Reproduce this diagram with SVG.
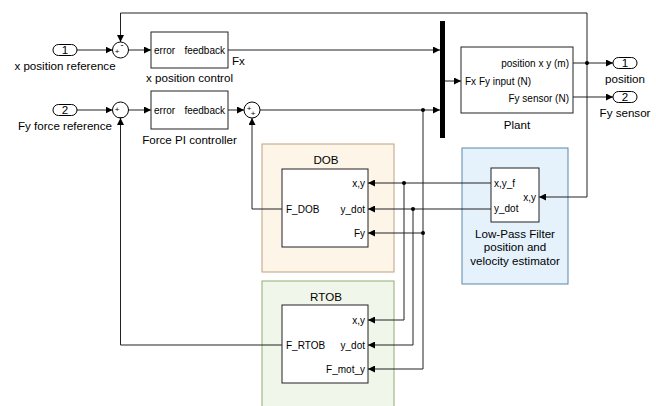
<svg xmlns="http://www.w3.org/2000/svg" width="656" height="406" viewBox="0 0 656 406">
<defs>
<marker id="ar" viewBox="0 0 8 8" refX="8" refY="4" markerWidth="7" markerHeight="7" markerUnits="userSpaceOnUse" orient="auto">
<path d="M0,0 L8,4 L0,8 z" fill="#000"/>
</marker>
</defs>
<style>
text{font-family:"Liberation Sans",Arial,sans-serif;fill:#000}
.lbl{font-size:11.6px}
.sm{font-size:10px}
.blk{fill:#fff;stroke:#222;stroke-width:1}
.w{fill:none;stroke:#222;stroke-width:1}
.wa{fill:none;stroke:#222;stroke-width:1;marker-end:url(#ar)}
.port{fill:#fff;stroke:#000;stroke-width:1}
.sum{fill:#fff;stroke:#000;stroke-width:1}
.sg{font-size:8px;text-anchor:middle}
.dot{fill:#000}
.mid{text-anchor:middle}
.end{text-anchor:end}
</style>
<rect width="656" height="406" fill="#fff"/>

<g id="DOB-area">
<rect x="262" y="144" width="132" height="128" fill="#fdf5e7" stroke="#bca27c" stroke-width="1"/>
<text x="326" y="164" class="lbl mid">DOB</text>
</g>
<g id="RTOB-area">
<rect x="262" y="281" width="132" height="130" fill="#f0f6e9" stroke="#8fae6e" stroke-width="1"/>
<text x="326" y="301" class="lbl mid">RTOB</text>
</g>
<g id="LPF-area">
<rect x="462" y="148" width="106" height="136" fill="#e5f2fc" stroke="#5a86ad" stroke-width="1"/>
</g>

<g id="connectors">
<line x1="77" y1="50" x2="112.5" y2="50" class="wa"/>
<line x1="128.5" y1="50" x2="151" y2="50" class="wa"/>
<line x1="228" y1="50" x2="440" y2="50" class="wa"/>
<line x1="77" y1="110" x2="112.5" y2="110" class="wa"/>
<line x1="128.5" y1="110" x2="151" y2="110" class="wa"/>
<line x1="228" y1="110" x2="244" y2="110" class="wa"/>
<line x1="260" y1="110" x2="440" y2="110" class="wa"/>
<line x1="445" y1="81" x2="461" y2="81" class="wa"/>
<line x1="573" y1="63" x2="613" y2="63" class="wa"/>
<line x1="573" y1="97" x2="613" y2="97" class="wa"/>
<polyline points="587,63 587,13 120.5,13 120.5,42" class="wa"/>
<polyline points="587,63 587,197 539,197" class="wa"/>
<line x1="491" y1="183" x2="368" y2="183" class="wa"/>
<line x1="491" y1="209" x2="368" y2="209" class="wa"/>
<polyline points="423,110 423,369 368,369" class="wa"/>
<line x1="423" y1="233" x2="368" y2="233" class="wa"/>
<polyline points="404,183 404,320 368,320" class="wa"/>
<polyline points="413,209 413,345 368,345" class="wa"/>
<polyline points="282,209 252,209 252,118" class="wa"/>
<polyline points="282,345 120.5,345 120.5,118" class="wa"/>
<circle cx="587" cy="63" r="2" class="dot"/>
<circle cx="423" cy="110" r="2" class="dot"/>
<circle cx="404" cy="183" r="2" class="dot"/>
<circle cx="413" cy="209" r="2" class="dot"/>
<circle cx="423" cy="233" r="2" class="dot"/>
</g>

<g id="in1">
<rect x="53" y="44.5" width="24" height="11" rx="5.5" class="port"/>
<text x="65" y="54" class="lbl mid">1</text>
<text x="65" y="70" class="lbl mid">x position reference</text>
</g>
<g id="in2">
<rect x="53" y="104.5" width="24" height="11" rx="5.5" class="port"/>
<text x="65" y="114" class="lbl mid">2</text>
<text x="65" y="130" class="lbl mid">Fy force reference</text>
</g>
<g id="sum1">
<circle cx="120.5" cy="50" r="8" class="sum"/>
<text x="117" y="54" class="sg">+</text>
<text x="122" y="48" class="sg" style="font-size:9px">-</text>
</g>
<g id="sum2">
<circle cx="120.5" cy="110" r="8" class="sum"/>
<text x="117" y="112" class="sg">+</text>
<text x="121" y="116" class="sg" style="font-size:9px">_</text>
</g>
<g id="sum3">
<circle cx="252" cy="110" r="8" class="sum"/>
<text x="249" y="111" class="sg">+</text>
<text x="253" y="116" class="sg">+</text>
</g>
<g id="xpos-control">
<rect x="151" y="32" width="77" height="36" class="blk"/>
<text x="154" y="54" class="sm">error</text>
<text x="225" y="54" class="sm end">feedback</text>
<text x="232" y="65" class="lbl">Fx</text>
<text x="189.5" y="82" class="lbl mid">x position control</text>
</g>
<g id="force-pi">
<rect x="151" y="91" width="77" height="38" class="blk"/>
<text x="154" y="114" class="sm">error</text>
<text x="225" y="114" class="sm end">feedback</text>
<text x="189.5" y="144" class="lbl mid">Force PI controller</text>
</g>
<g id="mux">
<rect x="440" y="21" width="5" height="117" fill="#000"/>
</g>
<g id="plant">
<rect x="461" y="47" width="112" height="66" class="blk"/>
<text x="569" y="67" class="sm end">position x y (m)</text>
<text x="465" y="84.5" class="sm">Fx Fy input (N)</text>
<text x="569" y="101.5" class="sm end">Fy sensor (N)</text>
<text x="517" y="129" class="lbl mid">Plant</text>
</g>
<g id="out1">
<rect x="613" y="57.5" width="24" height="11" rx="5.5" class="port"/>
<text x="625" y="67" class="lbl mid">1</text>
<text x="625" y="83" class="lbl mid">position</text>
</g>
<g id="out2">
<rect x="613" y="91.5" width="24" height="11" rx="5.5" class="port"/>
<text x="625" y="101" class="lbl mid">2</text>
<text x="625" y="117" class="lbl mid">Fy sensor</text>
</g>
<g id="DOB">
<rect x="282" y="169" width="86" height="78" class="blk"/>
<text x="365" y="186.5" class="sm end">x,y</text>
<text x="365" y="212.5" class="sm end">y_dot</text>
<text x="365" y="236.5" class="sm end">Fy</text>
<text x="286" y="212.5" class="sm">F_DOB</text>
</g>
<g id="RTOB">
<rect x="282" y="305" width="86" height="78" class="blk"/>
<text x="365" y="323.5" class="sm end">x,y</text>
<text x="365" y="348.5" class="sm end">y_dot</text>
<text x="365" y="372.5" class="sm end">F_mot_y</text>
<text x="286" y="348.5" class="sm">F_RTOB</text>
</g>
<g id="LPF">
<rect x="491" y="168" width="48" height="54" class="blk"/>
<text x="494" y="186.5" class="sm">x,y_f</text>
<text x="494" y="211.5" class="sm">y_dot</text>
<text x="536" y="200.5" class="sm end">x,y</text>
<text x="515" y="238" class="lbl mid">Low-Pass Filter</text>
<text x="515" y="251" class="lbl mid">position and</text>
<text x="515" y="265" class="lbl mid">velocity estimator</text>
</g>
</svg>
